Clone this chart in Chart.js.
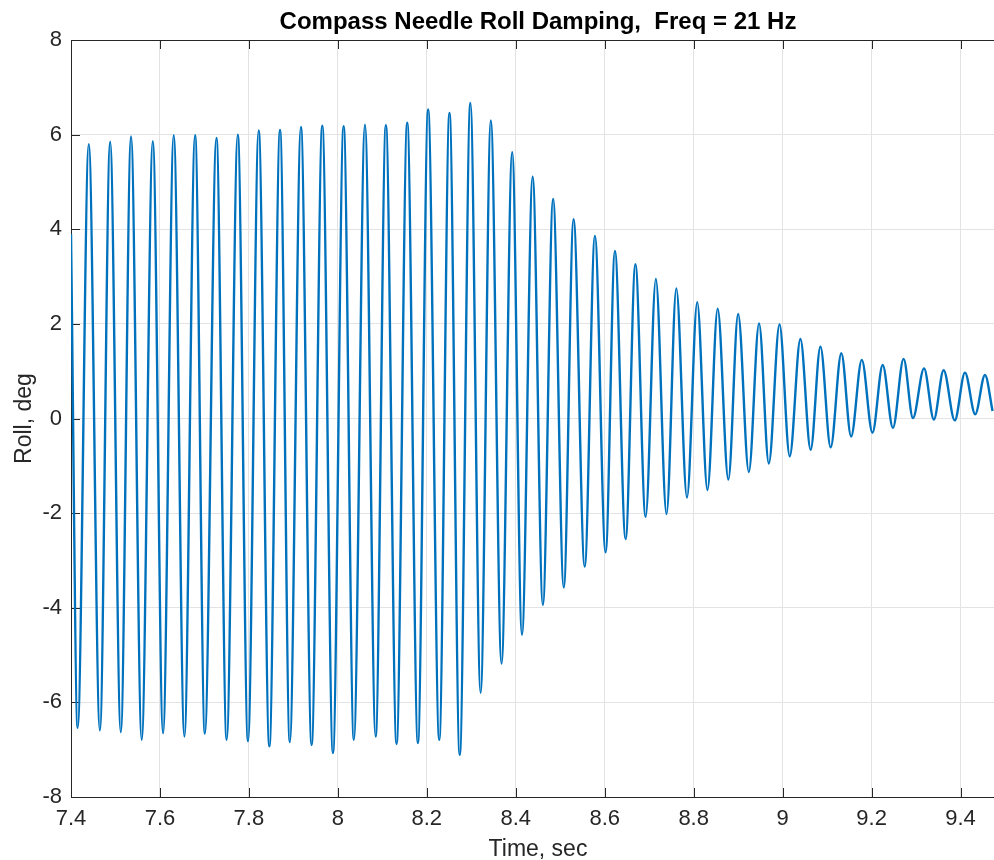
<!DOCTYPE html>
<html>
<head>
<meta charset="utf-8">
<script src="https://cdn.jsdelivr.net/npm/chart.js@4"></script>
<style>
  html, body { margin: 0; padding: 0; background: #fff; overflow: hidden; }
  #wrap { width: 994px; height: 860px; overflow: hidden; }
</style>
</head>
<body>
<div id="wrap"><canvas id="roll-chart" width="1005" height="860"></canvas></div>
<script>
// peaks / troughs of the needle roll
var timeSec = [7.400, 7.415, 7.440, 7.465, 7.488, 7.512, 7.535, 7.559, 7.584, 7.607,
               7.631, 7.655, 7.679, 7.701, 7.727, 7.750, 7.775, 7.798, 7.822, 7.846,
               7.870, 7.892, 7.917, 7.941, 7.965, 7.989, 8.013, 8.036, 8.061, 8.085,
               8.108, 8.132, 8.156, 8.180, 8.203, 8.228, 8.251, 8.274, 8.298, 8.321,
               8.344, 8.368, 8.392, 8.414, 8.438, 8.461, 8.484, 8.508, 8.530, 8.555,
               8.578, 8.602, 8.623, 8.647, 8.669, 8.692, 8.715, 8.739, 8.761, 8.785,
               8.808, 8.831, 8.854, 8.878, 8.900, 8.924, 8.947, 8.969, 8.993, 9.016,
               9.040, 9.063, 9.085, 9.108, 9.132, 9.154, 9.178, 9.202, 9.225, 9.248,
               9.272, 9.293, 9.318, 9.340, 9.362, 9.387, 9.410, 9.433, 9.455, 9.472];
var rollDeg = [3.90, -6.54, 5.80, -6.59, 5.85, -6.63, 5.96, -6.79, 5.86, -6.65,
               5.99, -6.72, 5.99, -6.66, 5.93, -6.79, 6.00, -6.82, 6.09, -6.93,
               6.10, -6.84, 6.16, -6.90, 6.19, -7.07, 6.18, -6.79, 6.21, -6.72,
               6.20, -6.88, 6.25, -6.86, 6.53, -6.79, 6.46, -7.11, 6.67, -5.80,
               6.30, -5.18, 5.63, -4.57, 5.11, -3.94, 4.64, -3.57, 4.21, -3.13,
               3.86, -2.83, 3.54, -2.55, 3.26, -2.08, 2.95, -2.02, 2.75, -1.67,
               2.46, -1.51, 2.32, -1.29, 2.21, -1.13, 2.01, -0.95, 1.99, -0.80,
               1.68, -0.66, 1.52, -0.61, 1.38, -0.38, 1.24, -0.30, 1.13, -0.20,
               1.26, 0.01, 1.06, -0.02, 1.02, -0.04, 0.97, 0.09, 0.92, 0.16];
var xTicks = [7.4, 7.6, 7.8, 8, 8.2, 8.4, 8.6, 8.8, 9, 9.2, 9.4];
var yTicks = [-8, -6, -4, -2, 0, 2, 4, 6, 8];

var FONT = "'Liberation Sans', Arial, Helvetica, sans-serif";
var INK = '#262626';

// matlab style box with inward tick marks
var axisBox = {
    id: 'axisBox',
    beforeDatasetsDraw: function (chart) {
        var a = chart.chartArea, ctx = chart.ctx;
        var sx = chart.scales.x, sy = chart.scales.y;
        ctx.save();
        ctx.strokeStyle = INK;
        ctx.lineWidth = 1;
        ctx.beginPath();
        xTicks.forEach(function (v) {
            var px = Math.round(sx.getPixelForValue(v)) + 0.5;
            ctx.moveTo(px, a.bottom); ctx.lineTo(px, a.bottom - 9);
            ctx.moveTo(px, a.top); ctx.lineTo(px, a.top + 9);
        });
        yTicks.forEach(function (v) {
            var py = Math.round(sy.getPixelForValue(v)) + 0.5;
            ctx.moveTo(a.left, py); ctx.lineTo(a.left + 9, py);
            ctx.moveTo(a.right, py); ctx.lineTo(a.right - 9, py);
        });
        ctx.stroke();
        ctx.strokeRect(Math.round(a.left) + 0.5, Math.round(a.top) + 0.5,
                       Math.round(a.right - a.left), Math.round(a.bottom - a.top));
        ctx.restore();
    }
};

var points = timeSec.map(function (t, i) { return { x: t, y: rollDeg[i] }; });

var ctx = document.getElementById('roll-chart').getContext('2d');
var rollChart = new Chart(ctx, {
    type: 'line',
    data: {
        datasets: [{
            data: points,
            borderColor: '#0072BD',
            borderWidth: 2.4,
            pointRadius: 0,
            fill: false,
            cubicInterpolationMode: 'monotone'
        }]
    },
    options: {
        responsive: false,
        animation: false,
        layout: { padding: 0 },
        plugins: {
            legend: { display: false },
            tooltip: { enabled: false },
            title: {
                display: true,
                fullSize: false,
                text: 'Compass Needle Roll Damping,  Freq = 21 Hz',
                color: '#000',
                font: { family: FONT, size: 24, weight: 'bold', lineHeight: 1.2 },
                padding: { top: 8, bottom: 3.2 }
            }
        },
        scales: {
            x: {
                type: 'linear',
                min: 7.4,
                max: 9.5,
                afterFit: function (scale) { scale.height = 63; },
                afterBuildTicks: function (scale) {
                    scale.ticks = xTicks.map(function (v) { return { value: v }; });
                },
                grid: { color: '#e3e3e3', drawTicks: false },
                border: { display: false },
                ticks: {
                    color: INK,
                    padding: 9,
                    maxRotation: 0,
                    autoSkip: false,
                    font: { family: FONT, size: 22 },
                    callback: function (v) { return String(v); }
                },
                title: {
                    display: true,
                    text: 'Time, sec',
                    color: INK,
                    font: { family: FONT, size: 23, lineHeight: 1 },
                    padding: { top: 0, bottom: -1.5 }
                }
            },
            y: {
                min: -8,
                max: 8,
                afterFit: function (scale) { scale.width = 71; },
                afterBuildTicks: function (scale) {
                    scale.ticks = yTicks.map(function (v) { return { value: v }; });
                },
                grid: { color: '#e3e3e3', drawTicks: false },
                border: { display: false },
                ticks: {
                    color: INK,
                    padding: 9,
                    autoSkip: false,
                    font: { family: FONT, size: 22 },
                    callback: function (v) { return String(v); }
                },
                title: {
                    display: true,
                    text: 'Roll, deg',
                    color: INK,
                    font: { family: FONT, size: 23, lineHeight: 1 },
                    padding: { top: 13.5, bottom: 0 }
                }
            }
        }
    },
    plugins: [axisBox]
});
</script>
</body>
</html>
